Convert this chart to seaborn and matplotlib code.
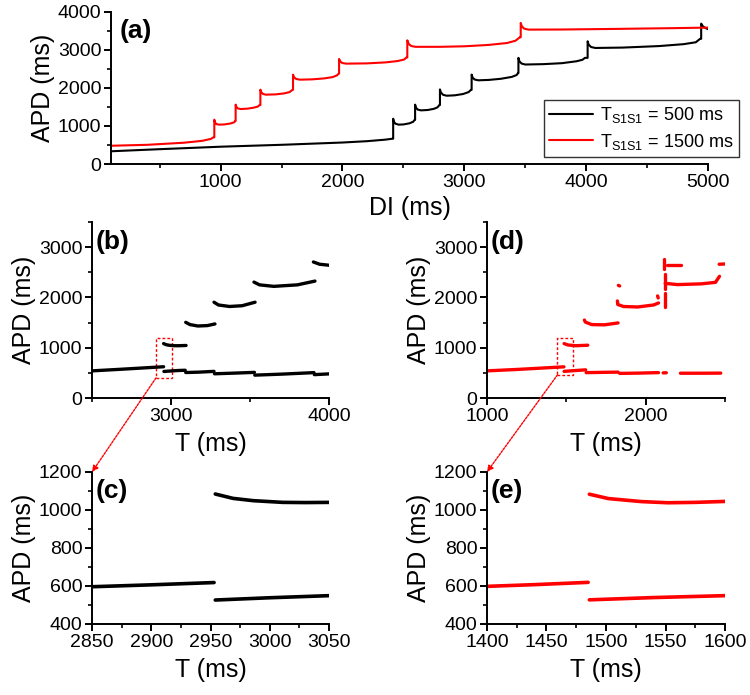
import matplotlib
matplotlib.use('Agg')
import numpy as np
import pandas as pd
import matplotlib.pyplot as plt
import seaborn as sns
from matplotlib.patches import Rectangle, ConnectionPatch
from matplotlib.ticker import MultipleLocator

# ---- panel (a): APD vs DI ----
a_di_500 = [100, 500, 1000, 1500, 2000, 2200, 2350, 2410,
            2416, 2416, 2422, 2435, 2460, 2500, 2550, 2580, 2592,
            2596, 2596, 2603, 2618, 2645, 2700, 2750, 2780, 2795,
            2800, 2800, 2808, 2825, 2855, 2920, 2990, 3035, 3055,
            3060, 3060, 3068, 3085, 3115, 3200, 3300, 3390, 3430, 3440,
            3444, 3444, 3452, 3470, 3500, 3650, 3800, 3920, 3970, 3990,
            4012, 4012, 4020, 4040, 4075, 4300, 4600, 4800, 4900, 4935,
            4944, 4944, 4955, 4975, 5000]
a_apd_500 = [335, 390, 455, 505, 565, 600, 640, 665,
             665, 1190, 1110, 1060, 1035, 1040, 1070, 1110, 1160,
             1160, 1560, 1480, 1430, 1410, 1420, 1450, 1490, 1550,
             1550, 1960, 1880, 1820, 1795, 1805, 1840, 1890, 1950,
             1950, 2350, 2270, 2220, 2200, 2210, 2240, 2290, 2340, 2390,
             2390, 2790, 2700, 2640, 2615, 2625, 2650, 2700, 2740, 2790,
             2790, 3225, 3140, 3075, 3050, 3060, 3100, 3150, 3200, 3290,
             3290, 3690, 3630, 3580, 3545]

a_di_1500 = [100, 400, 700, 850, 920, 940,
             948, 948, 954, 965, 985, 1030, 1080, 1110, 1120,
             1123, 1123, 1129, 1142, 1165, 1220, 1270, 1305, 1320,
             1326, 1326, 1333, 1348, 1370, 1450, 1520, 1565, 1590,
             1594, 1594, 1602, 1620, 1650, 1750, 1850, 1920, 1955, 1968,
             1972, 1972, 1980, 1998, 2030, 2200, 2350, 2450, 2505, 2525,
             2532, 2532, 2545, 2565, 2600, 2800, 3000, 3200, 3350, 3420, 3455,
             3463, 3463, 3472, 3490, 3526, 3800, 4224, 4700, 5000]
a_apd_1500 = [480, 505, 560, 610, 660, 700,
              700, 1165, 1090, 1050, 1035, 1040, 1065, 1095, 1130,
              1130, 1560, 1500, 1460, 1445, 1455, 1480, 1510, 1550,
              1550, 1954, 1890, 1840, 1823, 1830, 1855, 1890, 1950,
              1950, 2349, 2280, 2235, 2217, 2225, 2250, 2285, 2330, 2375,
              2375, 2762, 2700, 2655, 2638, 2645, 2670, 2705, 2745, 2800,
              2800, 3251, 3150, 3100, 3080, 3080, 3094, 3130, 3180, 3240, 3330,
              3330, 3708, 3620, 3560, 3532, 3535, 3550, 3570, 3585]

# ---- panel (b): T_S1S1 = 500 ms, APD vs T (segments) ----
b_segments = [
    ([2500, 2700, 2953], [540, 575, 622]),
    ([2955, 3000, 3050, 3090], [528, 538, 548, 552]),
    ([3093, 3180, 3272], [507, 515, 530]),
    ([3275, 3400, 3528], [482, 495, 510]),
    ([3530, 3700, 3905], [455, 475, 505]),
    ([3907, 4000], [465, 480]),
    ([2953, 2970, 2990, 3020, 3050, 3095], [1082, 1060, 1048, 1040, 1040, 1045]),
    ([3093, 3120, 3170, 3230, 3278], [1505, 1460, 1432, 1440, 1473]),
    ([3272, 3300, 3370, 3450, 3532], [1905, 1850, 1820, 1835, 1905]),
    ([3525, 3560, 3650, 3800, 3911], [2305, 2250, 2220, 2250, 2325]),
    ([3901, 3940, 4000], [2705, 2660, 2640]),
]

# ---- panel (d): T_S1S1 = 1500 ms ----
d_segments = [
    ([1000, 1200, 1485], [540, 570, 620]),
    ([1486, 1550, 1622], [530, 545, 560]),
    ([1625, 1720, 1826], [505, 510, 515]),
    ([1836, 1950, 2081], [490, 495, 505]),
    ([2110, 2130], [500, 502]),
    ([2219, 2350, 2473], [493, 493, 495]),
    ([1486, 1510, 1560, 1600, 1635], [1082, 1055, 1040, 1045, 1050]),
    ([1614, 1620, 1660, 1740, 1826], [1550, 1510, 1460, 1455, 1493]),
    ([1828, 1836], [2240, 2228]),
    ([1822, 1824, 1860, 1950, 2050, 2081], [1930, 1860, 1820, 1810, 1850, 1890]),
    ([2075, 2079], [2030, 1990]),
    ([2118, 2118], [2770, 2560]),
    ([2120, 2120], [2470, 2160]),
    ([2121, 2121], [2080, 1810]),
    ([2134, 2225], [2640, 2640]),
    ([2123, 2200, 2350, 2440, 2465], [2280, 2255, 2270, 2300, 2420]),
    ([2463, 2500], [2660, 2665]),
]

# ---- zoomed panels (c) and (e) ----
c_segments = [
    ([2850, 2900, 2953], [596, 606, 618]),
    ([2954, 3000, 3050], [526, 538, 549]),
    ([2954, 2969, 2986, 3011, 3030, 3050], [1084, 1061, 1049, 1040, 1039, 1040]),
]
e_segments = [
    ([1400, 1440, 1485], [598, 607, 619]),
    ([1486, 1540, 1600], [527, 539, 549]),
    ([1486, 1502, 1530, 1552, 1575, 1600], [1083, 1060, 1044, 1038, 1040, 1045]),
]


def seg_frame(segs):
    rows = []
    for k, (xs, ys) in enumerate(segs):
        for x, y in zip(xs, ys):
            rows.append({"x": x, "y": y, "seg": k})
    return pd.DataFrame(rows)


sns.set_theme(style="ticks")
plt.rcParams['font.family'] = ['Liberation Sans', 'DejaVu Sans']
plt.rcParams['mathtext.fontset'] = 'custom'
plt.rcParams['mathtext.rm'] = 'Liberation Sans'
plt.rcParams['mathtext.it'] = 'Liberation Sans:italic'
plt.rcParams['mathtext.bf'] = 'Liberation Sans:bold'
for key in ('text.color', 'axes.labelcolor', 'xtick.color', 'ytick.color', 'axes.edgecolor'):
    plt.rcParams[key] = 'black'

fig = plt.figure(figsize=(7.5, 6.95), dpi=100)
ax_a = fig.add_axes([0.148, 0.764, 0.796, 0.219])
ax_b = fig.add_axes([0.1227, 0.4273, 0.316, 0.2533])
ax_d = fig.add_axes([0.6493, 0.4273, 0.3174, 0.2533])
ax_c = fig.add_axes([0.1227, 0.1022, 0.316, 0.2187])
ax_e = fig.add_axes([0.6493, 0.1022, 0.3174, 0.2187])

# (a)
sns.lineplot(x=a_di_500, y=a_apd_500, sort=False, estimator=None, color='black',
             lw=1.5, label=r'T$_{\mathrm{S1S1}}$ = 500 ms', ax=ax_a)
sns.lineplot(x=a_di_1500, y=a_apd_1500, sort=False, estimator=None, color='#ff0000',
             lw=1.5, label=r'T$_{\mathrm{S1S1}}$ = 1500 ms', ax=ax_a)
ax_a.set_xlim(100, 5000)
ax_a.set_ylim(0, 4000)
ax_a.xaxis.set_major_locator(MultipleLocator(1000))
ax_a.xaxis.set_minor_locator(MultipleLocator(500))
ax_a.yaxis.set_major_locator(MultipleLocator(1000))
ax_a.yaxis.set_minor_locator(MultipleLocator(500))
ax_a.set_xlabel("DI (ms)", fontsize=18, labelpad=4)
leg = ax_a.legend(loc='lower right', bbox_to_anchor=(0.985, 0.774),
                  bbox_transform=fig.transFigure, frameon=True, fancybox=False,
                  edgecolor='#333333', framealpha=1, fontsize=13, handlelength=2.4,
                  borderpad=0.3, labelspacing=0.35, handletextpad=0.4, borderaxespad=0)
leg.get_frame().set_linewidth(1.0)

# (b) and (d)
sns.lineplot(data=seg_frame(b_segments), x="x", y="y", units="seg", estimator=None,
             sort=False, color='black', lw=2.4, ax=ax_b, legend=False)
sns.lineplot(data=seg_frame(d_segments), x="x", y="y", units="seg", estimator=None,
             sort=False, color='#ff0000', lw=2.4, ax=ax_d, legend=False)
ax_b.set_xlim(2500, 4000)
ax_d.set_xlim(1000, 2500)
for ax in (ax_b, ax_d):
    ax.set_ylim(0, 3500)
    ax.xaxis.set_major_locator(MultipleLocator(1000))
    ax.xaxis.set_minor_locator(MultipleLocator(500))
    ax.yaxis.set_major_locator(MultipleLocator(1000))
    ax.yaxis.set_minor_locator(MultipleLocator(500))

# (c) and (e)
sns.lineplot(data=seg_frame(c_segments), x="x", y="y", units="seg", estimator=None,
             sort=False, color='black', lw=2.6, ax=ax_c, legend=False)
sns.lineplot(data=seg_frame(e_segments), x="x", y="y", units="seg", estimator=None,
             sort=False, color='#ff0000', lw=2.6, ax=ax_e, legend=False)
ax_c.set_xlim(2850, 3050)
ax_e.set_xlim(1400, 1600)
for ax in (ax_c, ax_e):
    ax.set_ylim(400, 1200)
    ax.xaxis.set_major_locator(MultipleLocator(50))
    ax.xaxis.set_minor_locator(MultipleLocator(25))
    ax.yaxis.set_major_locator(MultipleLocator(200))
    ax.yaxis.set_minor_locator(MultipleLocator(100))

for ax in (ax_b, ax_d, ax_c, ax_e):
    ax.set_xlabel("T (ms)", fontsize=18, labelpad=5)

for ax, letter in zip((ax_a, ax_b, ax_c, ax_d, ax_e), "abcde"):
    sns.despine(ax=ax)
    for side in ('left', 'bottom'):
        ax.spines[side].set_linewidth(1.4)
    ax.tick_params(which='major', direction='out', length=5, width=1.4, labelsize=14, pad=2)
    ax.tick_params(which='minor', direction='out', length=3, width=1.2)
    ax.set_ylabel("APD (ms)", fontsize=18, labelpad=2)
    ax.text(0.015, 0.955, f"({letter})", transform=ax.transAxes, fontsize=19,
            fontweight='bold', ha='left', va='top')

# zoom boxes and arrows
ax_b.add_patch(Rectangle((2905, 400), 100, 800, fill=False, ec='#ff0000', lw=1,
                         ls=(0, (2, 1.5))))
ax_d.add_patch(Rectangle((1444, 460), 95, 740, fill=False, ec='#ff0000', lw=1,
                         ls=(0, (2, 1.5))))
for src, dst, xyA, xyB in ((ax_b, ax_c, (2905, 400), (2850, 1200)),
                           (ax_d, ax_e, (1444, 460), (1400, 1200))):
    con = ConnectionPatch(xyA=xyA, xyB=xyB, coordsA='data', coordsB='data',
                          axesA=src, axesB=dst, arrowstyle='-|>', color='#ff0000',
                          lw=1, ls=(0, (1.5, 1)), mutation_scale=9, shrinkA=0, shrinkB=0)
    fig.add_artist(con)

fig.savefig("out.png", dpi=100)
